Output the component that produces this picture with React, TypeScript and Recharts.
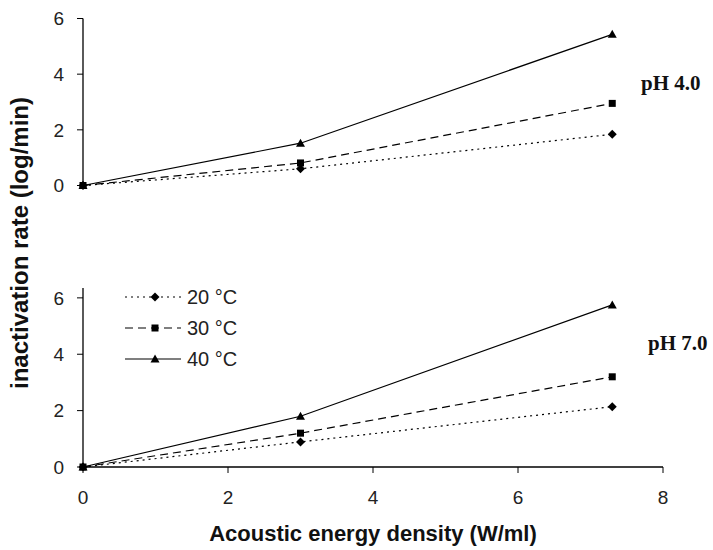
import { LineChart, Line, XAxis, YAxis } from "recharts";

// acoustic energy density (W/ml)
const energy = [0, 3, 7.3];
const tempLabels = ["20 °C", "30 °C", "40 °C"];

// inactivation rate (log/min), pH 4.0
const ph4Rate20 = [0, 0.6, 1.84];
const ph4Rate30 = [0, 0.81, 2.95];
const ph4Rate40 = [0, 1.52, 5.43];

// inactivation rate (log/min), pH 7.0
const ph7Rate20 = [0, 0.89, 2.14];
const ph7Rate30 = [0, 1.2, 3.2];
const ph7Rate40 = [0, 1.8, 5.75];

const xTicks = [0, 2, 4, 6, 8];
const yTicks = [0, 2, 4, 6];

const seriesStyle = [
  { key: "t20", dash: "2 4", shape: "diamond" },
  { key: "t30", dash: "8 5", shape: "square" },
  { key: "t40", dash: undefined, shape: "triangle" },
];

const ph4Data = energy.map((x, i) => ({
  x,
  t20: ph4Rate20[i],
  t30: ph4Rate30[i],
  t40: ph4Rate40[i],
}));

const ph7Data = energy.map((x, i) => ({
  x,
  t20: ph7Rate20[i],
  t30: ph7Rate30[i],
  t40: ph7Rate40[i],
}));

const sans = "'Liberation Sans', Arial, sans-serif";
const serif = "'Liberation Serif', 'Times New Roman', serif";
const tickStyle = { fontSize: 19, fill: "#222", fontFamily: sans };

function Marker({ cx, cy, shape }: { cx: number; cy: number; shape: string }) {
  if (cx == null || cy == null) return null;
  if (shape === "diamond") {
    const r = 4.5;
    return (
      <polygon
        points={`${cx},${cy - r} ${cx + r},${cy} ${cx},${cy + r} ${cx - r},${cy}`}
        fill="#000"
      />
    );
  }
  if (shape === "square") {
    return <rect x={cx - 3.5} y={cy - 3.5} width={7} height={7} fill="#000" />;
  }
  return (
    <polygon
      points={`${cx},${cy - 4.5} ${cx + 4.5},${cy + 3.5} ${cx - 4.5},${cy + 3.5}`}
      fill="#000"
    />
  );
}

function Panel({ data, maxY }: { data: any[]; maxY: number }) {
  return seriesStyle.map((s) => (
    <Line
      key={s.key}
      type="linear"
      dataKey={s.key}
      stroke="#000"
      strokeWidth={1.2}
      strokeDasharray={s.dash}
      dot={(p: any) => (
        <Marker key={`${s.key}-${p.index}`} cx={p.cx} cy={p.cy} shape={s.shape} />
      )}
      activeDot={false}
      isAnimationActive={false}
    />
  ));
}

function LegendBox() {
  return (
    <svg
      width={140}
      height={100}
      style={{ position: "absolute", left: 115, top: 280 }}
    >
      {seriesStyle.map((s, i) => {
        const y = 17 + i * 31;
        return (
          <g key={s.key}>
            <line
              x1={10}
              x2={66}
              y1={y}
              y2={y}
              stroke="#000"
              strokeWidth={1.2}
              strokeDasharray={s.dash}
            />
            <Marker cx={40} cy={y} shape={s.shape} />
            <text
              x={72}
              y={y}
              dominantBaseline="central"
              fontSize={20}
              fill="#222"
              fontFamily={sans}
            >
              {tempLabels[i]}
            </text>
          </g>
        );
      })}
    </svg>
  );
}

export default function App() {
  return (
    <div
      style={{
        position: "absolute",
        left: 0,
        top: 0,
        width: 713,
        height: 550,
        background: "#fff",
        fontFamily: sans,
      }}
    >
      <div style={{ position: "absolute", left: 0, top: 0 }}>
        <LineChart
          width={713}
          height={200}
          data={ph4Data}
          margin={{ top: 18.5, right: 50, left: 0, bottom: 14.5 }}
        >
          <XAxis dataKey="x" type="number" domain={[0, 8]} hide />
          <YAxis
            type="number"
            domain={[0, 6]}
            ticks={yTicks}
            interval={0}
            width={83}
            tickSize={6}
            tickMargin={13}
            tick={tickStyle}
            axisLine={{ stroke: "#000", strokeWidth: 1.3 }}
            tickLine={{ stroke: "#000" }}
          />
          {Panel({ data: ph4Data, maxY: 6 })}
        </LineChart>
      </div>

      <div style={{ position: "absolute", left: 0, top: 270 }}>
        <LineChart
          width={713}
          height={280}
          data={ph7Data}
          margin={{ top: 18, right: 50, left: 0, bottom: 23 }}
        >
          <XAxis
            dataKey="x"
            type="number"
            domain={[0, 8]}
            ticks={xTicks}
            interval={0}
            height={60}
            tickSize={6}
            tickMargin={18}
            tick={tickStyle}
            axisLine={{ stroke: "#000", strokeWidth: 1.3 }}
            tickLine={{ stroke: "#000" }}
            label={{
              value: "Acoustic energy density (W/ml)",
              position: "insideBottom",
              offset: -14,
              style: { fontSize: 22, fontWeight: "bold", fill: "#111", fontFamily: sans },
            }}
          />
          <YAxis
            type="number"
            domain={[0, 6.35]}
            ticks={yTicks}
            interval={0}
            width={83}
            tickSize={6}
            tickMargin={13}
            tick={tickStyle}
            axisLine={{ stroke: "#000", strokeWidth: 1.3 }}
            tickLine={{ stroke: "#000" }}
          />
          {Panel({ data: ph7Data, maxY: 6.35 })}
        </LineChart>
      </div>

      <LegendBox />

      <svg
        width={713}
        height={550}
        style={{ position: "absolute", left: 0, top: 0, pointerEvents: "none" }}
      >
        <text
          transform="translate(28, 243) rotate(-90)"
          textAnchor="middle"
          fontSize={24}
          fontWeight="bold"
          fill="#111"
          fontFamily={sans}
        >
          inactivation rate (log/min)
        </text>
        <text x={641} y={90} fontSize={21} fontWeight="bold" fill="#111" fontFamily={serif}>
          pH 4.0
        </text>
        <text x={648} y={350} fontSize={21} fontWeight="bold" fill="#111" fontFamily={serif}>
          pH 7.0
        </text>
      </svg>
    </div>
  );
}
